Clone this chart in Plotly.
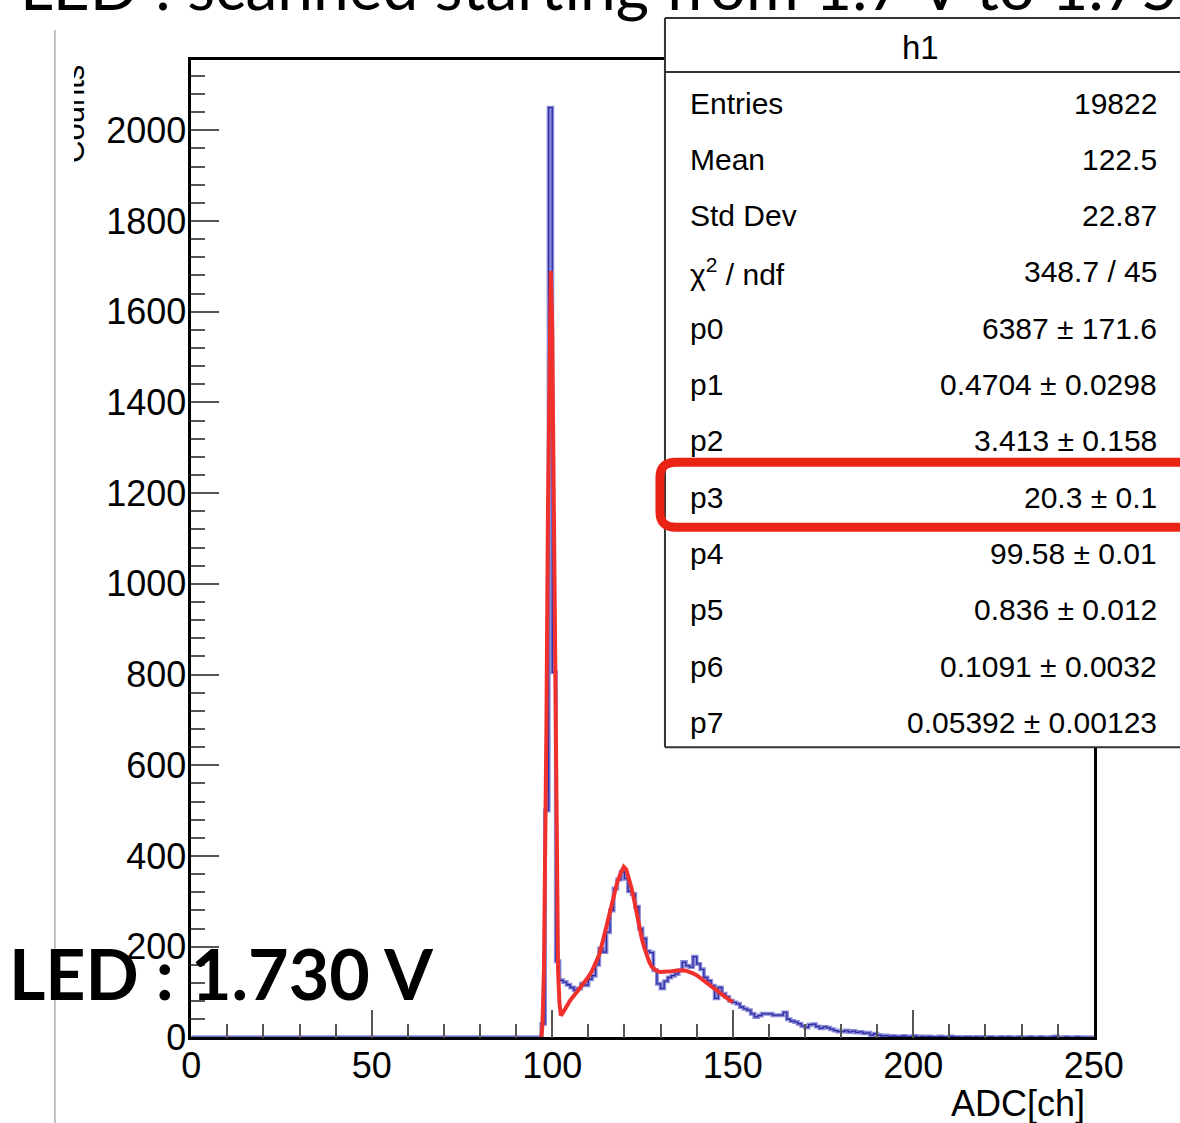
import plotly.graph_objects as go

W, H = 1180, 1123
# empirical mapping of the rendered page (figure drawn at ~1142x1101, offset 9 px)
OX, SW, SH = 9.0, 1141.8, 1101.6

def px(x):
    return (x - OX) / SW

def py(y):
    return 1 - y / SH

# ---------------- data ----------------
bin_width = 1
bin_left = list(range(0, 250))
counts = ([0] * 97 +
          [30, 500, 2050, 805, 168, 126, 122, 116, 110, 104,          # 97-106
           108, 118, 115, 128, 136, 160, 196, 188, 232, 280,          # 107-116
           328, 348, 365, 350, 322, 316, 288, 240, 218, 190,          # 117-126
           187, 148, 118, 108, 124, 132, 136, 140, 148, 166,          # 127-136
           158, 155, 178, 162, 150, 132, 125, 114, 86, 110,           # 137-146
           96, 89, 81, 77, 74, 67, 63, 60, 52, 45,                    # 147-156
           48, 52, 52, 52, 49, 49, 49, 55, 40, 36,                    # 157-166
           34, 30, 25, 22, 28, 29, 24, 20, 23, 21,                    # 167-176
           18, 15, 13, 13, 15, 12, 14, 11, 12, 9,                     # 177-186
           10, 5, 8, 5, 3, 4, 2, 3, 2, 2,                             # 187-196
           3, 1, 2, 3, 1, 2, 1, 2, 1, 1,                              # 197-206
           2, 1, 0, 2, 1, 1, 0, 1, 1, 0,                              # 207-216
           1, 0, 1, 0, 1, 0, 0, 1, 0, 1,                              # 217-226
           0, 0, 1, 0, 0, 1, 0, 0, 1, 0,                              # 227-236
           0, 1, 2, 0, 0, 1, 0, 0, 1, 0,                              # 237-246
           0, 0, 0])                                                  # 247-249

fit_x = [97.0, 97.3, 97.7, 98.0, 98.4, 98.8, 99.2, 99.6, 100.0, 100.4,
         100.8, 101.2, 101.6, 102.0, 102.4, 103.0, 104.0, 105.0, 106.0, 107.0,
         108.0, 109.0, 110.0, 111.0, 112.0, 113.0, 114.0, 115.0, 116.0, 117.0,
         118.0, 119.0, 119.8, 120.5, 121.3, 122.0, 122.7, 123.4, 124.1, 124.8,
         125.5, 126.2, 126.9, 127.6, 128.3, 129.0, 130.0, 131.0, 132.0, 133.0,
         134.0, 135.0, 136.0, 137.0, 138.0, 139.0, 140.0, 141.0, 142.0, 143.0,
         144.0, 145.0, 146.0, 147.0, 148.0, 149.0, 150.0]
fit_y = [0, 30, 150, 320, 700, 1150, 1550, 1690, 1560, 1150,
         700, 330, 150, 75, 48, 55, 70, 82, 92, 102,
         112, 122, 133, 146, 162, 182, 212, 246, 278, 312,
         342, 363, 376, 370, 350, 328, 302, 272, 243, 218,
         198, 180, 166, 155, 149, 146, 144, 144, 145, 146,
         147, 148, 148, 147, 145, 141, 137, 131, 125, 118,
         112, 105, 99, 94, 88, 83, 78]

stat_labels = ["Entries", "Mean", "Std Dev", "χ<sup>2</sup> / ndf", "p0", "p1",
               "p2", "p3", "p4", "p5", "p6", "p7"]
stat_values = ["19822", "122.5", "22.87", "348.7 / 45", "6387 ± 171.6",
               "0.4704 ± 0.0298", "3.413 ± 0.158", "20.3 ± 0.1",
               "99.58 ± 0.01", "0.836 ± 0.012", "0.1091 ± 0.0032",
               "0.05392 ± 0.00123"]

x_ticks = [0, 50, 100, 150, 200, 250]
y_ticks = [0, 200, 400, 600, 800, 1000, 1200, 1400, 1600, 1800, 2000]

# ---------------- figure ----------------
hist_x = bin_left + [bin_left[-1] + bin_width]
hist_y = counts + [counts[-1]]

fig = go.Figure()
fig.add_trace(go.Scatter(x=hist_x, y=hist_y, mode="lines", line_shape="hv",
                         line=dict(color="#8c8cd8", width=4), hoverinfo="skip",
                         showlegend=False))
fig.add_trace(go.Scatter(x=hist_x, y=hist_y, mode="lines", line_shape="hv",
                         line=dict(color="#2c2ca4", width=1.3), showlegend=False))
fig.add_trace(go.Scatter(x=fit_x, y=fit_y, mode="lines",
                         line=dict(color="#f0302c", width=4), showlegend=False))

ROOTFONT = "Liberation Sans, Arial, sans-serif"
tickcol = "#555555"

fig.update_xaxes(domain=[px(190.5), px(1094.5)], range=[0, 250],
                 tickvals=x_ticks, ticktext=[str(v) for v in x_ticks],
                 ticks="inside", ticklen=28, tickwidth=2, tickcolor=tickcol,
                 minor=dict(dtick=10, tick0=0, ticks="inside", ticklen=14,
                            tickwidth=2, tickcolor=tickcol, showgrid=False),
                 showline=True, linecolor="black", linewidth=2.5, mirror=True,
                 showgrid=False, zeroline=False,
                 tickfont=dict(family=ROOTFONT, size=36, color="black"),
                 ticklabelstandoff=-5)
fig.update_yaxes(domain=[py(1037), py(60)], range=[0, 2155],
                 tickvals=y_ticks, ticktext=[str(v) for v in y_ticks],
                 ticks="inside", ticklen=28, tickwidth=2, tickcolor=tickcol,
                 minor=dict(dtick=40, tick0=0, ticks="inside", ticklen=14,
                            tickwidth=2, tickcolor=tickcol, showgrid=False),
                 showline=True, linecolor="black", linewidth=2.5, mirror=True,
                 showgrid=False, zeroline=False,
                 tickfont=dict(family=ROOTFONT, size=36, color="black"),
                 ticklabelstandoff=-5)

BOXL, BOXT, BOXB, BOXR = 665, 18, 747, 1182
shapes = []
# thin gray line at the left (slide edge)
shapes.append(dict(type="line", xref="paper", yref="paper",
                   x0=px(54), x1=px(54), y0=py(30), y1=py(1123),
                   line=dict(color="#9a9a9a", width=1.2)))
# stats box (extends beyond the right edge)
shapes.append(dict(type="rect", xref="paper", yref="paper", layer="above",
                   x0=px(BOXL), x1=px(BOXR), y0=py(BOXB), y1=py(BOXT),
                   fillcolor="white", line=dict(width=0)))
for (xa, ya, xb, yb) in [(BOXL, BOXT, BOXR, BOXT), (BOXL, BOXB, BOXR, BOXB),
                         (BOXL, BOXT, BOXL, BOXB), (BOXL, 72, BOXR, 72)]:
    shapes.append(dict(type="line", xref="paper", yref="paper", layer="above",
                       x0=px(xa), x1=px(xb), y0=py(ya), y1=py(yb),
                       line=dict(color="#333333", width=2)))

# red highlight around p3
def P(x, y):
    return f"{px(x):.5f},{py(y):.5f}"
path = (f"M {P(1182, 462)} L {P(676, 462)} Q {P(660, 462)} {P(660, 477)} "
        f"L {P(660, 512)} Q {P(660, 527)} {P(676, 527)} L {P(1182, 527)}")
shapes.append(dict(type="path", xref="paper", yref="paper", layer="above",
                   path=path, line=dict(color="#ea2414", width=9)))

ann = []
ann.append(dict(text="LED : scanned starting from 1.7 V to 1.75",
                x=px(1181), y=py(-14), xref="paper", yref="paper",
                xanchor="right", yanchor="middle", showarrow=False,
                font=dict(family="Lato", size=64, color="black")))
ann.append(dict(text="<b>LED : 1.730 V</b>",
                x=px(6), y=py(973), xref="paper", yref="paper",
                xanchor="left", yanchor="middle", showarrow=False,
                font=dict(family="Lato", size=70, color="black")))
ann.append(dict(text="Counts", textangle=-90,
                x=px(72), y=py(114), xref="paper", yref="paper",
                xanchor="center", yanchor="middle", showarrow=False,
                font=dict(family=ROOTFONT, size=31, color="black")))
ann.append(dict(text=" ", x=px(56), y=py(114), xref="paper", yref="paper",
                xanchor="left", yanchor="middle", showarrow=False,
                width=17, height=170, bgcolor="white", borderpad=0,
                borderwidth=0, font=dict(size=10)))
ann.append(dict(text="ADC[ch]", x=px(1088), y=py(1103), xref="paper",
                yref="paper", xanchor="right", yanchor="middle",
                showarrow=False,
                font=dict(family=ROOTFONT, size=36, color="black")))
ann.append(dict(text="h1", x=px(921), y=py(47), xref="paper", yref="paper",
                xanchor="center", yanchor="middle", showarrow=False,
                font=dict(family=ROOTFONT, size=33, color="black")))
for i, (lab, val) in enumerate(zip(stat_labels, stat_values)):
    yy = 103 + 56.3 * i
    ann.append(dict(text=lab, x=px(688), y=py(yy), xref="paper", yref="paper",
                    xanchor="left", yanchor="middle", showarrow=False,
                    font=dict(family=ROOTFONT, size=30, color="black")))
    ann.append(dict(text=val, x=px(1160), y=py(yy), xref="paper", yref="paper",
                    xanchor="right", yanchor="middle", showarrow=False,
                    font=dict(family=ROOTFONT, size=30, color="black")))

fig.update_layout(width=W, height=H, autosize=False,
                  margin=dict(l=0, r=0, t=0, b=0),
                  paper_bgcolor="white", plot_bgcolor="white",
                  shapes=shapes, annotations=ann, showlegend=False)

fig.write_html("out.html", config={"displayModeBar": False, "responsive": False},
               post_script="document.body.style.margin='0';document.body.style.overflow='hidden';document.documentElement.style.overflow='hidden';")
